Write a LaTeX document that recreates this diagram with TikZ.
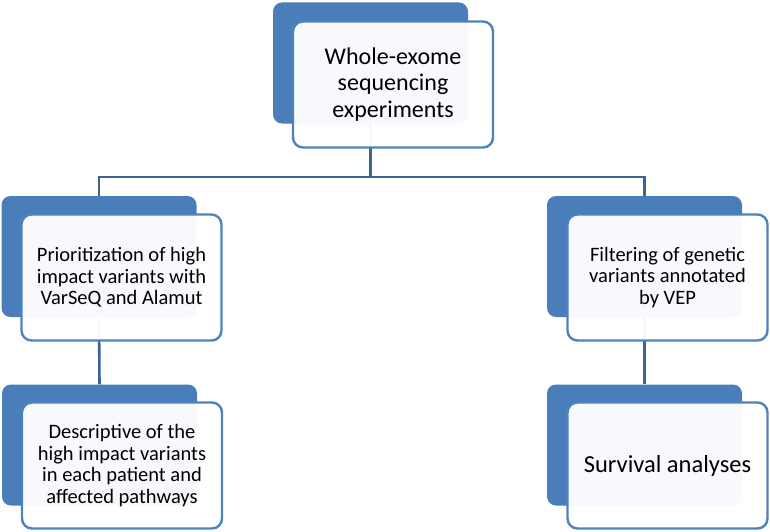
\documentclass[tikz,border=0pt]{standalone}
\usepackage{fontspec}
\setmainfont{Carlito}
\definecolor{backblue}{RGB}{74,126,187}
\definecolor{edgeblue}{RGB}{79,129,189}
\definecolor{linkblue}{RGB}{58,100,150}
\definecolor{frontfill}{RGB}{255,255,255}
\tikzset{
  backbox/.style={draw=none, fill=backblue, rounded corners=9pt, inner sep=0pt,
    minimum width=195pt, minimum height=121pt},
  frontbox/.style={draw=edgeblue, line width=2.4pt, fill=frontfill, fill opacity=0.96,
    text opacity=1, rounded corners=10pt, inner sep=0pt, align=center,
    minimum width=200pt, minimum height=126pt, text=black},
  link/.style={draw=linkblue, line width=2.6pt},
  bigtxt/.style={font=\fontsize{24}{26.5}\selectfont},
  midtxt/.style={font=\fontsize{20.5}{21.5}\selectfont},
  survtxt/.style={font=\fontsize{24.5}{26}\selectfont}
}
\begin{document}
\begin{tikzpicture}[x=1pt,y=-1pt]
\useasboundingbox (0,0) rectangle (770,532);
% back boxes
\node[backbox] (tb) at (370.5,63) {};
\node[backbox] (l1b) at (99,256.5) {};
\node[backbox] (r1b) at (644.5,256.5) {};
\node[backbox] (l2b) at (99.5,445) {};
\node[backbox] (r2b) at (644.5,445) {};
% connectors
\coordinate (jn) at (tb.south |- 0,177);
\draw[link] (tb.south) -- (jn);
\draw[link] (jn) -| (l1b.north);
\draw[link] (jn) -| (r1b.north);
\draw[link] (l1b.south) -- (l2b.north);
\draw[link] (r1b.south) -- (r2b.north);
% front boxes
\node[frontbox, bigtxt] (tf) at (393,84.5) {Whole-exome\\sequencing\\experiments};
\node[frontbox, midtxt] (l1f) at (121.5,277.5) {Prioritization of high\\impact variants with\\VarSeQ and Alamut};
\node[frontbox, midtxt] (r1f) at (667.5,277.5) {Filtering of genetic\\variants annotated\\by VEP};
\node[frontbox, midtxt] (l2f) at (122,465.5) {Descriptive of the\\high impact variants\\in each patient and\\affected pathways};
\node[frontbox, survtxt] (r2f) at (667.5,465.5) {Survival analyses};
\end{tikzpicture}
\end{document}
